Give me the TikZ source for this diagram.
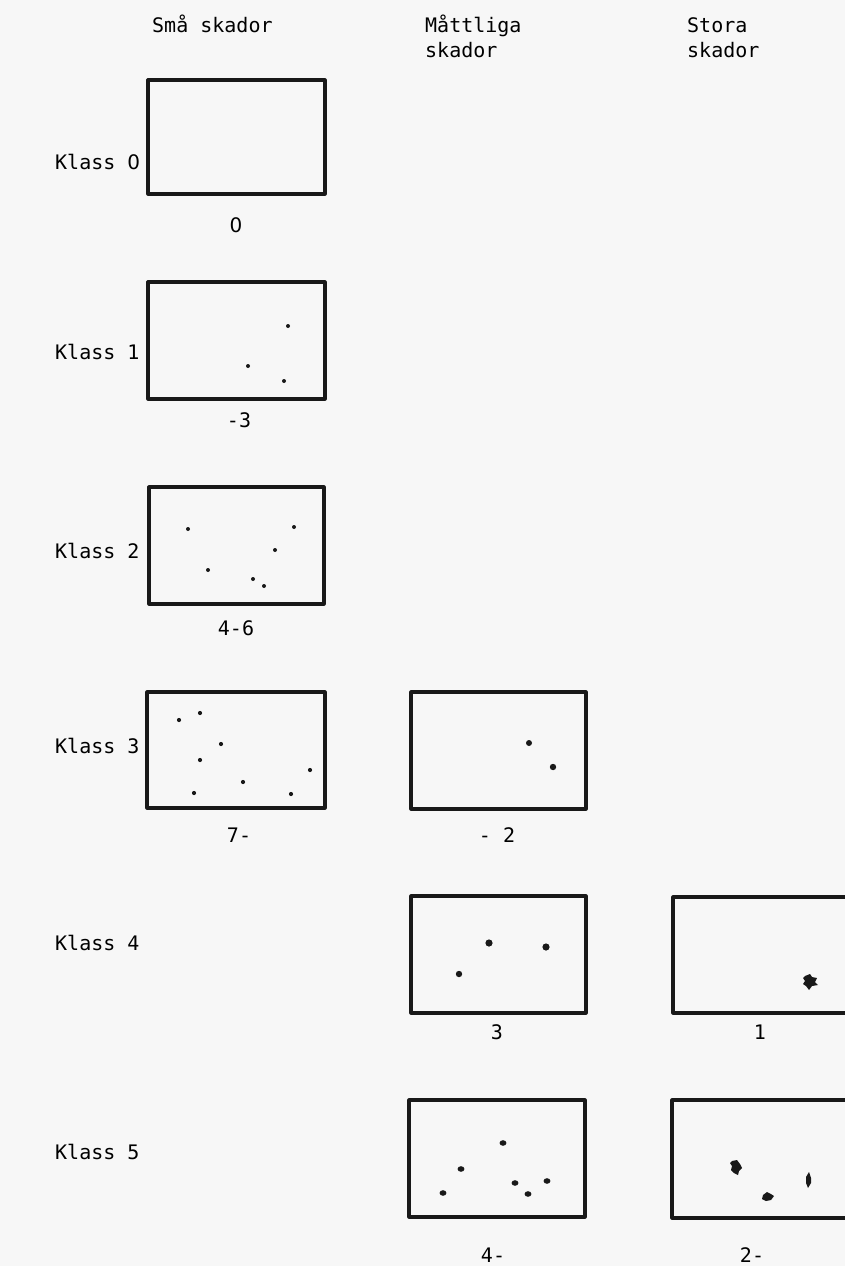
\documentclass[tikz,border=0pt]{standalone}
\usepackage{fontspec}
\newfontfamily\tw{DejaVu Sans Mono}
\newfontfamily\twz{DejaVu Sans}
\begin{document}
\begin{tikzpicture}[x=1pt,y=-1pt,
  lbl/.style={font=\tw\fontsize{20}{25}\selectfont, inner sep=0pt, text=black},
  head/.style={lbl, anchor=base west, align=left},
  num/.style={lbl, anchor=base},
  frame/.style={draw=black!90, line width=3.2pt, line join=round},
  sdot/.style={fill=black!90},
  mdot/.style={fill=black!90},
  blob/.style={fill=black!90}]
\useasboundingbox[fill=black!3] (0,0) rectangle (845,1266);
% headers (anchor at baseline of the last line)
\node[head] (h1) at (152,32) {Små skador};
\node[head] (h2) at (425,57) {Måttliga\\skador};
\node[head] (h3) at (687,57) {Stora\\skador};
% row labels
\node[head] (k0) at (55,169) {Klass {\twz 0}};
\node[head] (k1) at (55,359) {Klass 1};
\node[head] (k2) at (55,558) {Klass 2};
\node[head] (k3) at (55,753) {Klass 3};
\node[head] (k4) at (55,950) {Klass 4};
\node[head] (k5) at (55,1159) {Klass 5};
% boxes
\draw[frame] (148,80) rectangle (325,194);
\draw[frame] (148,282) rectangle (325,399);
\draw[frame] (149,487) rectangle (324,604);
\draw[frame] (147,692) rectangle (325,808);
\draw[frame] (411,692) rectangle (586,809);
\draw[frame] (411,896) rectangle (586,1013);
\draw[frame] (673,897) rectangle (900,1013);
\draw[frame] (409,1100) rectangle (585,1217);
\draw[frame] (672,1100) rectangle (900,1218);
% numbers
\node[num] (n0) at (236,232) {\twz 0};
\node[num] (n1) at (239,427) {-3};
\node[num] (n2) at (236,635) {4-6};
\node[num] (n3a) at (239,842) {7-};
\node[num] (n3b) at (497,842) {- 2};
\node[num] (n4b) at (497,1039) {3};
\node[num] (n4c) at (760,1039) {1};
\node[num] (n5b) at (493,1262) {4-};
\node[num] (n5c) at (752,1262) {2-};
% Klass 1 dots
\foreach \p in {(288,326),(248,366),(284,381)} \fill[sdot] \p circle (2);
% Klass 2 dots
\foreach \p in {(188,529),(294,527),(275,550),(208,570),(253,579),(264,586)} \fill[sdot] \p circle (2);
% Klass 3 dots
\foreach \p in {(179,720),(200,713),(221,744),(200,760),(310,770),(243,782),(194,793),(291,794)} \fill[sdot] \p circle (2.1);
% Klass 3 moderate
\fill[mdot] (529,743) circle (3);
\fill[mdot] (553,767) circle (3.2);
% Klass 4 moderate
\fill[mdot] (489,943) circle (3.6);
\fill[mdot] (546,947) circle (3.6);
\fill[mdot] (459,974) circle (3.2);
% Klass 4 large
\fill[blob] (805,976) -- (810,974) -- (812,977) -- (817,978) -- (815,982) -- (818,985) -- (812,986) -- (809,990) -- (806,986) -- (803,984) -- (805,981) -- (803,978) -- cycle;
% Klass 5 moderate
\foreach \p in {(503,1143),(461,1169),(515,1183),(547,1181),(443,1193),(528,1194)} \fill[mdot] \p ellipse (3.4 and 2.8);
% Klass 5 large
\fill[blob] (732,1161) -- (737,1160) -- (740,1164) -- (742,1168) -- (739,1171) -- (738,1175) -- (734,1173) -- (731,1170) -- (732,1166) -- (730,1163) -- cycle;
\fill[blob] (763,1195) -- (767,1192) -- (771,1194) -- (774,1196) -- (771,1200) -- (766,1201) -- (762,1199) -- cycle;
\fill[blob] (809,1172) -- (811,1178) -- (811,1183) -- (808,1188) -- (806,1183) -- (806,1177) -- cycle;
\end{tikzpicture}
\end{document}
